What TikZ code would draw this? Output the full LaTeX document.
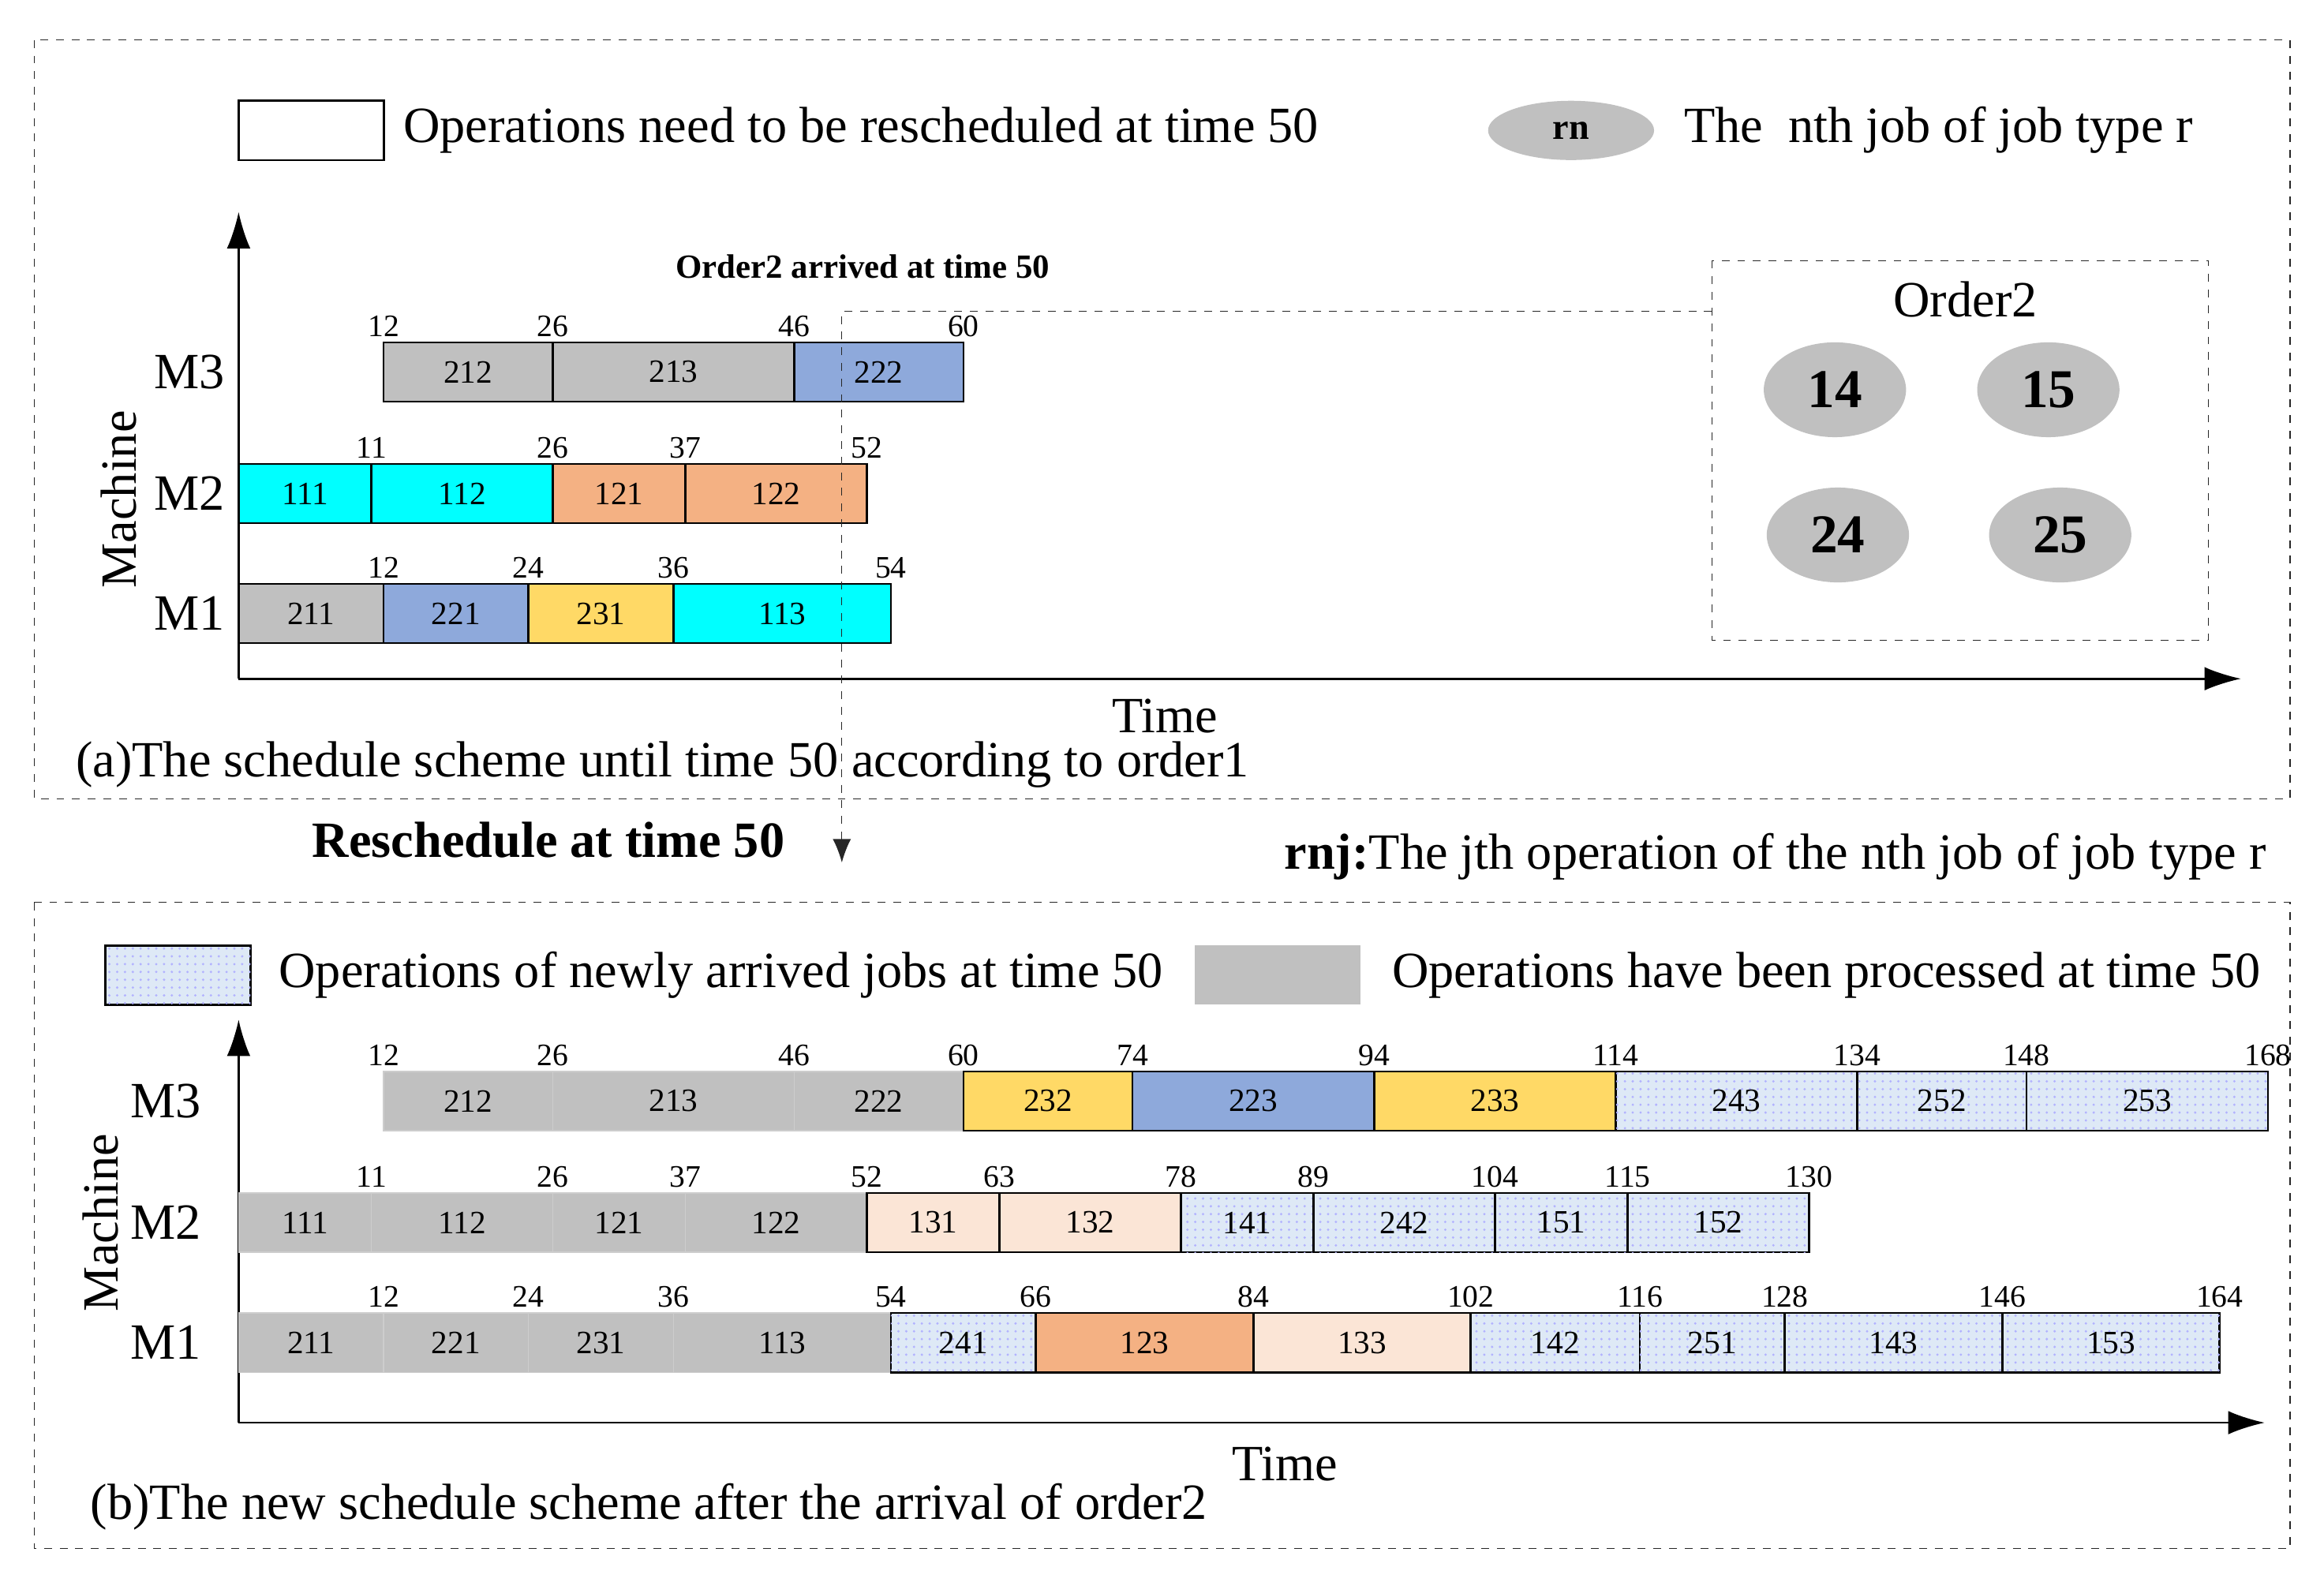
\documentclass[tikz,border=0pt]{standalone}
\usepackage{fontspec}
\setmainfont{Liberation Serif}
\usetikzlibrary{patterns,arrows.meta,shapes.geometric}
\definecolor{grayc}{RGB}{192,192,192}
\definecolor{bluec}{RGB}{142,169,219}
\definecolor{cyanc}{RGB}{0,255,255}
\definecolor{salc}{RGB}{244,177,131}
\definecolor{yelc}{RGB}{255,217,102}
\definecolor{peachc}{RGB}{251,229,214}
\definecolor{newc}{RGB}{222,233,246}
\newcommand\myop[5]{\path[#5] ({161+8.15*#2},#1) rectangle ({161+8.15*#3},#1+40);
 \node[lab] at ({161+8.15*(#2+#3)/2},#1+20) {#4};}
\newcommand\mytick[2]{\node[tick] at ({161+8.15*#2},#1-11) {#2};}
\begin{document}
\begin{tikzpicture}[x=0.02cm,y=-0.02cm,
  lab/.style={font=\fontsize{12.5}{14}\selectfont},
  tick/.style={font=\fontsize{12}{14}\selectfont},
  big/.style={font=\fontsize{19.5}{22}\selectfont},
  gr/.style={draw=black,fill=grayc,thick},
  gn/.style={fill=grayc,draw=grayc!80!white},
  bl/.style={draw=black,fill=bluec,thick},
  cy/.style={draw=black,fill=cyanc,thick},
  sa/.style={draw=black,fill=salc,thick},
  ye/.style={draw=black,fill=yelc,thick},
  pe/.style={draw=black,fill=peachc,thick},
  nw/.style={draw=black,thick,fill=newc,postaction={pattern=dots,pattern color=blue!30}},
  dbox/.style={draw=black!85,dashed},
  ax/.style={thick,-{Latex[length=14pt,width=9pt]}}]
\useasboundingbox (0,0) rectangle (1568,1067);
% frames
\draw[dbox] (23,27) rectangle (1545,539);
\draw[dbox] (23,609) rectangle (1545,1045);
% top legend
\draw[thick] (161,68) rectangle (259,108);
\node[big,anchor=west] (lg1) at (266,88) {Operations need to be rescheduled at time 50};
\node[ellipse,fill=grayc,minimum width=2.24cm,minimum height=0.8cm,inner sep=0,font=\fontsize{14}{16}\selectfont\bfseries] (rn) at (1060,88) {rn};
\node[big,anchor=west] (lg2) at (1130,88) {The\ \ nth job of job type r};
% top axes
\coordinate (o1) at (161,458);
\draw[ax] (o1) -- (161,143);
\draw[ax] (o1) -- (1512,458);
\node[big,rotate=90] at (80,337) {Machine};
\node[big] at (128,251) {M3};
\node[big] at (128,333) {M2};
\node[big] at (128,414) {M1};
\node[big] at (786,483) {Time};
\node[big,anchor=west] at (45,516) {(a)The schedule scheme until time 50 according to order1};
\node[font=\fontsize{13}{15}\selectfont\bfseries] at (582,180) {Order2 arrived at time 50};
% top schedule
\myop{231}{12}{26}{212}{gr}\myop{231}{26}{46}{213}{gr}\myop{231}{46}{60}{222}{bl}
\myop{313}{0}{11}{111}{cy}\myop{313}{11}{26}{112}{cy}\myop{313}{26}{37}{121}{sa}\myop{313}{37}{52}{122}{sa}
\myop{394}{0}{12}{211}{gr}\myop{394}{12}{24}{221}{bl}\myop{394}{24}{36}{231}{ye}\myop{394}{36}{54}{113}{cy}
\foreach \t in {12,26,46,60}{\mytick{231}{\t}}
\foreach \t in {11,26,37,52}{\mytick{313}{\t}}
\foreach \t in {12,24,36,54}{\mytick{394}{\t}}
% order2 box
\draw[dbox] (1155,176) rectangle (1490,432);
\coordinate (ob) at (1155,210);
\node[big] at (1326,202) {Order2};
\foreach \x/\y/\l in {1238/263/14,1382/263/15,1240/361/24,1390/361/25}
  \node[ellipse,fill=grayc,minimum width=1.92cm,minimum height=1.28cm,inner sep=0,font=\fontsize{21}{24}\selectfont\bfseries] at (\x,\y) {\l};
\coordinate (ar) at (568,582);
\draw[dashed,black!85,-{Latex[length=9pt,width=7pt]}] (ob) -- (568,210) -- (ar);
\node[font=\fontsize{19.5}{22}\selectfont\bfseries] at (370,567) {Reschedule at time 50};
\node[big,anchor=east] at (1535,578) {\textbf{rnj:}The jth operation of the nth job of job type r};
% bottom legend
\path[nw] (71,638) rectangle (169,678);
\node[big,anchor=west] at (182,658) {Operations of newly arrived jobs at time 50};
\path[fill=grayc] (806,638) rectangle (918,678);
\node[big,anchor=west] at (933,658) {Operations have been processed at time 50};
% bottom axes
\coordinate (o2) at (161,960);
\draw[ax] (o2) -- (161,688);
\draw[ax] (o2) -- (1528,960);
\node[big,rotate=90] at (68,825) {Machine};
\node[big] at (112,743) {M3};
\node[big] at (112,825) {M2};
\node[big] at (112,906) {M1};
\node[big] at (867,988) {Time};
\node[big,anchor=west] at (55,1017) {(b)The new schedule scheme after the arrival of order2};
% bottom schedule
\myop{723}{12}{26}{212}{gn}\myop{723}{26}{46}{213}{gn}\myop{723}{46}{60}{222}{gn}
\myop{723}{60}{74}{232}{ye}\myop{723}{74}{94}{223}{bl}\myop{723}{94}{114}{233}{ye}
\myop{723}{114}{134}{243}{nw}\myop{723}{134}{148}{252}{nw}\myop{723}{148}{168}{253}{nw}
\myop{805}{0}{11}{111}{gn}\myop{805}{11}{26}{112}{gn}\myop{805}{26}{37}{121}{gn}\myop{805}{37}{52}{122}{gn}
\myop{805}{52}{63}{131}{pe}\myop{805}{63}{78}{132}{pe}\myop{805}{78}{89}{141}{nw}\myop{805}{89}{104}{242}{nw}
\myop{805}{104}{115}{151}{nw}\myop{805}{115}{130}{152}{nw}
\myop{886}{0}{12}{211}{gn}\myop{886}{12}{24}{221}{gn}\myop{886}{24}{36}{231}{gn}\myop{886}{36}{54}{113}{gn}
\myop{886}{54}{66}{241}{nw}\myop{886}{66}{84}{123}{sa}\myop{886}{84}{102}{133}{pe}\myop{886}{102}{116}{142}{nw}
\myop{886}{116}{128}{251}{nw}\myop{886}{128}{146}{143}{nw}\myop{886}{146}{164}{153}{nw}
\foreach \t in {12,26,46,60,74,94,114,134,148,168}{\mytick{723}{\t}}
\foreach \t in {11,26,37,52,63,78,89,104,115,130}{\mytick{805}{\t}}
\foreach \t in {12,24,36,54,66,84,102,116,128,146,164}{\mytick{886}{\t}}
\end{tikzpicture}
\end{document}
